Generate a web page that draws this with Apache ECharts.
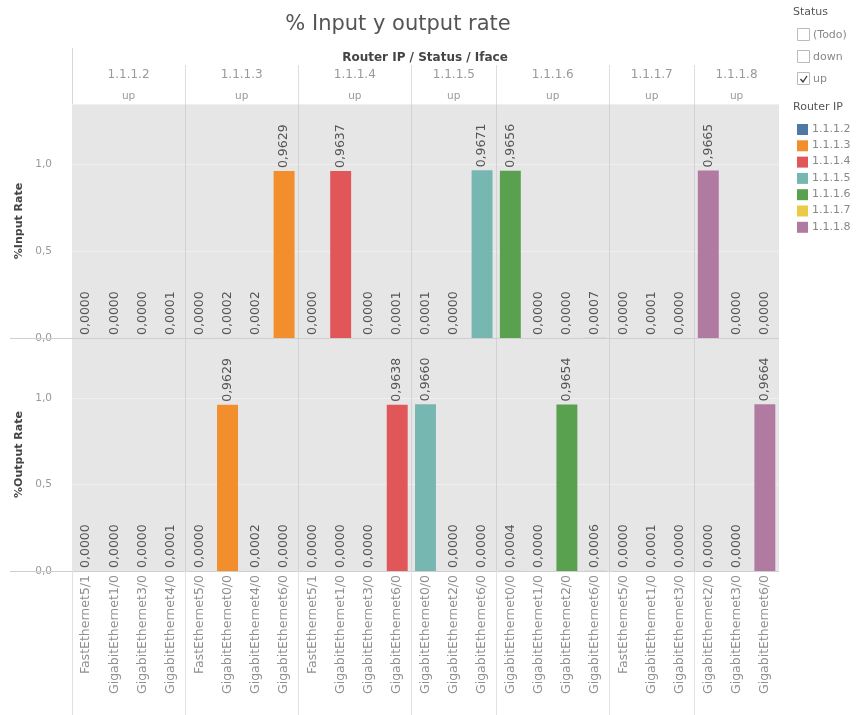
<!DOCTYPE html>
<html>
<head>
<meta charset="utf-8">
<script src="https://cdn.jsdelivr.net/npm/echarts@6/dist/echarts.min.js"></script>
<style>html,body{margin:0;padding:0;background:#fff}#c{width:859px;height:715px}</style>
</head>
<body>
<div id="c"></div>
<script>
const panelRouters = ['1.1.1.2','1.1.1.3','1.1.1.4','1.1.1.5','1.1.1.6','1.1.1.7','1.1.1.8'];
const panelStatus = ['up','up','up','up','up','up','up'];
const ifaceRouter = ['1.1.1.2','1.1.1.2','1.1.1.2','1.1.1.2',
  '1.1.1.3','1.1.1.3','1.1.1.3','1.1.1.3',
  '1.1.1.4','1.1.1.4','1.1.1.4','1.1.1.4',
  '1.1.1.5','1.1.1.5','1.1.1.5',
  '1.1.1.6','1.1.1.6','1.1.1.6','1.1.1.6',
  '1.1.1.7','1.1.1.7','1.1.1.7',
  '1.1.1.8','1.1.1.8','1.1.1.8'];
const ifaceNames = ['FastEthernet5/1','GigabitEthernet1/0','GigabitEthernet3/0','GigabitEthernet4/0',
  'FastEthernet5/0','GigabitEthernet0/0','GigabitEthernet4/0','GigabitEthernet6/0',
  'FastEthernet5/1','GigabitEthernet1/0','GigabitEthernet3/0','GigabitEthernet6/0',
  'GigabitEthernet0/0','GigabitEthernet2/0','GigabitEthernet6/0',
  'GigabitEthernet0/0','GigabitEthernet1/0','GigabitEthernet2/0','GigabitEthernet6/0',
  'FastEthernet5/0','GigabitEthernet1/0','GigabitEthernet3/0',
  'GigabitEthernet2/0','GigabitEthernet3/0','GigabitEthernet6/0'];
const inputRate = [0.0000,0.0000,0.0000,0.0001,
  0.0000,0.0002,0.0002,0.9629,
  0.0000,0.9637,0.0000,0.0001,
  0.0001,0.0000,0.9671,
  0.9656,0.0000,0.0000,0.0007,
  0.0000,0.0001,0.0000,
  0.9665,0.0000,0.0000];
const outputRate = [0.0000,0.0000,0.0000,0.0001,
  0.0000,0.9629,0.0002,0.0000,
  0.0000,0.0000,0.0000,0.9638,
  0.9660,0.0000,0.0000,
  0.0004,0.0000,0.9654,0.0006,
  0.0000,0.0001,0.0000,
  0.0000,0.0000,0.9664];
const yTicks = [0, 0.5, 1.0];
const statusItems = ['(Todo)','down','up'];
const statusChecked = [false,false,true];

const routerColors = ['#4e79a7','#f28e2b','#e15759','#76b7b2','#59a14f','#edc948','#b07aa1'];
const colorOf = r => routerColors[panelRouters.indexOf(r)];
const cats = ifaceNames.map((n,i) => ifaceRouter[i] + '|' + n);
const fmt4 = v => v.toFixed(4).replace('.', ',');
const FONT = '"DejaVu Sans", sans-serif';

const chart = echarts.init(document.getElementById('c'));
const GL = 72, GR = 80;
const grids = [{top:104, height:234}, {top:338, height:233}];

function yAxis(idx, name) {
  return {
    type:'value', gridIndex:idx, min:0, max:1.35, interval:0.5,
    name:name, nameLocation:'middle', nameGap:40,
    nameTextStyle:{fontSize:11, color:'#444', fontWeight:'bold', fontFamily:FONT},
    axisLine:{show:false}, axisTick:{show:false},
    axisLabel:{fontSize:10.5, color:'#999', margin:20, fontFamily:FONT, showMaxLabel:false,
      formatter: v => yTicks.some(t => Math.abs(t - v) < 1e-9) ? v.toFixed(1).replace('.', ',') : ''},
    splitLine:{show:true, lineStyle:{color:'#f0f0f0', width:1}}
  };
}
function xAxis(idx, showLabels) {
  return {
    type:'category', gridIndex:idx, data:cats,
    axisLine:{show:false}, axisTick:{show:false},
    axisLabel:{show:showLabels, interval:0, rotate:90, fontSize:12.5, color:'#8f8f8f', margin:4, fontFamily:FONT,
      formatter: v => v.split('|')[1]},
    splitLine:{show:false}
  };
}
function barSeries(idx, values) {
  return {
    type:'bar', xAxisIndex:idx, yAxisIndex:idx, barWidth:'74%',
    data: values.map((v,i) => ({value:v, itemStyle:{color:colorOf(ifaceRouter[i])}})),
    label:{show:true, position:'top', rotate:90, align:'left', verticalAlign:'middle', distance:3,
      fontSize:12.5, color:'#555', fontFamily:FONT, formatter: p => fmt4(p.value)},
    silent:true, animation:false
  };
}

chart.setOption({
  animation:false,
  title:{text:'% Input y output rate', left:393, top:9, textAlign:'center',
    textStyle:{fontSize:21, fontWeight:'normal', color:'#555', fontFamily:FONT}},
  grid: grids.map(g => ({left:GL, right:GR, top:g.top, height:g.height, show:true,
    backgroundColor:'#e6e6e6', borderWidth:0, containLabel:false})),
  xAxis:[xAxis(0,false), xAxis(1,true)],
  yAxis:[yAxis(0,'%Input Rate'), yAxis(1,'%Output Rate')],
  series:[barSeries(0,inputRate), barSeries(1,outputRate)]
});

// Decorations computed from the axes
const px = i => chart.convertToPixel({xAxisIndex:1}, i);
const slot = px(1) - px(0);
const g = [];
const lineC = '#d6d6d6';
const ln = (x1,y1,x2,y2,c,z) => ({type:'line', shape:{x1,y1,x2,y2}, style:{stroke:c||lineC, lineWidth:1}, z:z||10, silent:true});
const plotRight = px(cats.length-1) + slot/2;
g.push(ln(10, 338.5, plotRight, 338.5, '#cfcfcf'));
g.push(ln(10, 571.5, plotRight, 571.5, '#cfcfcf'));
g.push(ln(72.5, 48, 72.5, 104, '#d6d6d6'));
g.push(ln(72.5, 571, 72.5, 715, '#e0e0e0'));
panelRouters.forEach((r, p) => {
  const first = ifaceRouter.indexOf(r), last = ifaceRouter.lastIndexOf(r);
  const l = px(first) - slot/2, rr = px(last) + slot/2, c = (l + rr)/2;
  g.push({type:'text', x:c, y:75, style:{text:r, fill:'#999', font:'12px '+FONT, textAlign:'center', textVerticalAlign:'middle'}, silent:true});
  g.push({type:'text', x:c, y:96, style:{text:panelStatus[p], fill:'#999', font:'10.5px '+FONT, textAlign:'center', textVerticalAlign:'middle'}, silent:true});
  if (p > 0) {
    const x = Math.round(l) + 0.5;
    g.push(ln(x, 65, x, 104, '#dedede'));
    g.push(ln(x, 104, x, 571, '#d2d2d2', 1));
    g.push(ln(x, 571, x, 715, '#e2e2e2'));
  }
});
g.push({type:'text', x:425, y:58, style:{text:'Router IP / Status / Iface', fill:'#444', font:'bold 12px '+FONT, textAlign:'center', textVerticalAlign:'middle'}, silent:true});
g.push({type:'text', x:793, y:12, style:{text:'Status', fill:'#555', font:'11px '+FONT, textVerticalAlign:'middle'}, silent:true});
statusItems.forEach((s, i) => {
  const y = 35 + i*22;
  g.push({type:'rect', shape:{x:797.5, y:y-6.5, width:12, height:12}, style:{fill:'#fff', stroke:'#bbb', lineWidth:1}, silent:true});
  if (statusChecked[i]) g.push({type:'polyline', shape:{points:[[800.5,y],[803,y+3],[807,y-3]]}, style:{stroke:'#333', lineWidth:1.3, fill:null}, silent:true});
  g.push({type:'text', x:813, y:y, style:{text:s, fill:'#888', font:'11px '+FONT, textVerticalAlign:'middle'}, silent:true});
});
g.push({type:'text', x:793, y:107, style:{text:'Router IP', fill:'#555', font:'11px '+FONT, textVerticalAlign:'middle'}, silent:true});
panelRouters.forEach((r, i) => {
  const y = 129 + i*16.3;
  g.push({type:'rect', shape:{x:797, y:y-5, width:11, height:11}, style:{fill:routerColors[i]}, silent:true});
  g.push({type:'text', x:812, y:y, style:{text:r, fill:'#888', font:'11px '+FONT, textVerticalAlign:'middle'}, silent:true});
});
chart.setOption({graphic:g});
</script>
</body>
</html>
